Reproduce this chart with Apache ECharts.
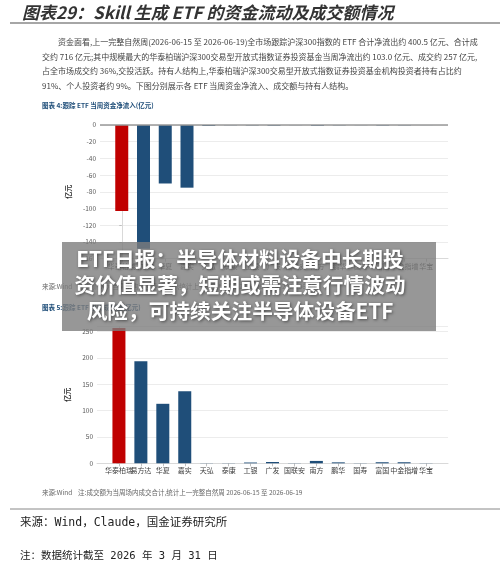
<!DOCTYPE html>
<html><head><meta charset="utf-8">
<script src="https://cdn.jsdelivr.net/npm/echarts@6/dist/echarts.min.js"></script>
<style>html,body{margin:0;padding:0;background:#fff}#c{width:500px;height:573px}</style>
</head><body><div id="c"></div>
<script>
// ---- data ----
const categories = ['华泰柏瑞','易方达','华夏','嘉实','天弘','泰康','工银','广发','国联安','南方','鹏华','国寿','富国','中金指增','华宝'];
const netInflow = [-103.0,-148,-70,-75,-1.2,-0.3,-0.5,-0.8,-0.2,-0.9,-0.4,-0.2,-0.6,-0.4,-0.1];
const turnover  = [257,194,113,137,0.3,0.3,1.5,2.5,0.3,4.5,1.8,0.3,2,2,0.3];
const flowAxisRange = [-160, 0];
const flowAxisStep = 20;
const turnoverAxisRange = [0, 260];
const turnoverAxisStep = 50;
const highlightIndex = 0;

const pageTitle = '图表29：Skill 生成 ETF 的资金流动及成交额情况';
const paragraph = [
  '资金面看,上一完整自然周(2026-06-15 至 2026-06-19)全市场跟踪沪深300指数的 ETF 合计净流出约 400.5 亿元、合计成',
  '交约 716 亿元;其中规模最大的华泰柏瑞沪深300交易型开放式指数证券投资基金当周净流出约 103.0 亿元、成交约 257 亿元,',
  '占全市场成交约 36%,交投活跃。持有人结构上,华泰柏瑞沪深300交易型开放式指数证券投资基金机构投资者持有占比约',
  '91%、个人投资者约 9%。下图分别展示各 ETF 当周资金净流入、成交额与持有人结构。'
];
const chart1Title = '图表 4:跟踪 ETF 当周资金净流入(亿元)';
const chart2Title = '图表 5:跟踪 ETF 当周成交额(亿元)';
const chart1Note = '来源:Wind    注:净流入为当周申购赎回净额合计,统计上一完整自然周 2026-06-15 至 2026-06-19';
const chart2Note = '来源:Wind    注:成交额为当周场内成交合计,统计上一完整自然周 2026-06-15 至 2026-06-19';
const bannerLines = ['ETF日报：半导体材料设备中长期投','资价值显著，短期或需注意行情波动','风险，可持续关注半导体设备ETF'];
const footer1 = '来源：Wind，Claude，国金证券研究所';
const footer2 = '注：数据统计截至 2026 年 3 月 31 日';

// ---- styles ----
const RED = '#c00000', NAVY = '#1f4e79';
const CJK = '"Noto Sans CJK SC", sans-serif';
const MONO = '"DejaVu Sans Mono", "Noto Sans CJK SC", monospace';
const idx = categories.map((_, i) => i);
// label positions include the two empty axis ends so no category label is treated as the min/max label
const labelPos = [-1].concat(idx, [categories.length]);

function xAxisFor(gridIndex, onZero) {
  return {
    type: 'value', gridIndex, min: -1, max: categories.length, interval: 1,
    axisLine: { show: true, onZero, lineStyle: { color: '#d9d9d9', width: 1 } },
    axisTick: { show: true, customValues: idx, length: 3, lineStyle: { color: '#bfbfbf' } },
    axisLabel: { customValues: labelPos, formatter: v => categories[v] || ' ', fontSize: 7, color: '#404040', margin: 4,
      fontFamily: CJK, hideOverlap: false },
    splitLine: { show: false }
  };
}
function yAxisFor(gridIndex, range, step, labelExtra) {
  return {
    type: 'value', gridIndex, min: range[0], max: range[1], interval: step,
    name: '亿元', nameLocation: 'middle', nameGap: 23, nameRotate: 90,
    nameTextStyle: { fontSize: 7, fontWeight: 'bold', color: '#333', fontFamily: CJK },
    axisLine: { show: true, lineStyle: { color: '#d9d9d9' } },
    axisTick: { show: true, length: 2.5, lineStyle: { color: '#bfbfbf' } },
    axisLabel: Object.assign({ fontSize: 6.5, color: '#595959', margin: 4 }, labelExtra || {}),
    splitLine: { show: true, lineStyle: { color: '#ececec', width: 1 } }
  };
}
function barData(vals) {
  return vals.map((v, i) => ({ value: [i, v], itemStyle: { color: i === highlightIndex ? RED : NAVY } }));
}

function txt(x, y, text, size, fill, opts) {
  return {
    type: 'text', z: 10,
    style: Object.assign({ x, y, text, fontSize: size, fill, fontFamily: CJK, align: 'left', verticalAlign: 'middle' }, opts || {})
  };
}

const graphics = [
  txt(22, 13, pageTitle, 17, '#333', { fontStyle: 'italic', fontWeight: 'bold' }),
  { type: 'line', z: 10, shape: { x1: 10, y1: 23, x2: 500, y2: 23 }, style: { stroke: '#888', lineWidth: 1.5 } },
  txt(58, 42, paragraph[0], 8, '#444'),
  txt(42, 56.5, paragraph[1], 8, '#444'),
  txt(42, 71, paragraph[2], 8, '#444'),
  txt(42, 85.5, paragraph[3], 8, '#444'),
  txt(42, 105.5, chart1Title, 6.5, NAVY, { fontWeight: 'bold' }),
  txt(42, 287, chart1Note, 6.5, '#666'),
  txt(42, 308, chart2Title, 6.5, NAVY, { fontWeight: 'bold' }),
  txt(42, 492.5, chart2Note, 6.5, '#666'),
  { type: 'line', z: 10, shape: { x1: 10, y1: 509, x2: 500, y2: 509 }, style: { stroke: '#888', lineWidth: 1 } },
  txt(20, 523, footer1, 11.5, '#222', { fontFamily: MONO }),
  txt(20, 556, footer2, 10.5, '#222', { fontFamily: MONO }),
  { type: 'rect', z: 100, shape: { x: 62, y: 242, width: 374, height: 89 }, style: { fill: 'rgba(125,125,125,0.8)' } }
];
bannerLines.forEach((l, i) => {
  graphics.push({
    type: 'text', z: 101,
    style: { x: 240, y: 259 + i * 26, text: l, fontSize: 20.7, fontWeight: 'bold', fill: '#fff', fontFamily: CJK,
      align: 'center', verticalAlign: 'middle', textShadowColor: 'rgba(0,0,0,0.5)', textShadowBlur: 3, textShadowOffsetX: 1, textShadowOffsetY: 1 }
  });
});

const chart = echarts.init(document.getElementById('c'), null, { renderer: 'canvas' });
chart.setOption({
  animation: false,
  backgroundColor: '#fff',
  textStyle: { fontFamily: CJK },
  grid: [
    { left: 100, top: 125, width: 348, height: 133.7 },
    { left: 97, top: 326.4, width: 351, height: 136.9 }
  ],
  xAxis: [xAxisFor(0, false), xAxisFor(1, true)],
  yAxis: [
    yAxisFor(0, flowAxisRange, flowAxisStep),
    yAxisFor(1, turnoverAxisRange, turnoverAxisStep, { showMaxLabel: false })
  ],
  series: [
    { type: 'bar', xAxisIndex: 0, yAxisIndex: 0, barWidth: 13, data: barData(netInflow),
      markLine: { silent: true, symbol: 'none', label: { show: false },
        lineStyle: { color: '#999', width: 1.5, type: 'solid' }, data: [{ yAxis: 0 }] } },
    { type: 'bar', xAxisIndex: 1, yAxisIndex: 1, barWidth: 13, data: barData(turnover) }
  ],
  graphic: graphics
});
</script></body></html>
